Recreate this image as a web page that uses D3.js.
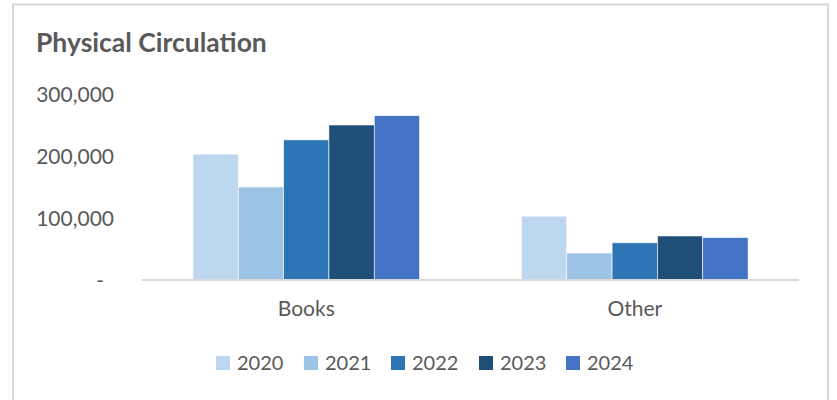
<!DOCTYPE html>
<html><head><meta charset="utf-8">
<script src="https://cdn.jsdelivr.net/npm/d3@7"></script>
<style>body{margin:0;background:#fff;} svg{display:block;}</style>
</head><body>
<script>
const categories = ["Books", "Other"];
const years = ["2020", "2021", "2022", "2023", "2024"];
const values2020 = [203000, 103000];
const values2021 = [150000, 43500];
const values2022 = [226000, 60000];
const values2023 = [250000, 71000];
const values2024 = [265000, 68500];
const yTicks = [0, 100000, 200000, 300000];
const colors = ["#bdd7ee", "#9dc3e6", "#2e75b6", "#1f4e79", "#4472c4"];

const series = [values2020, values2021, values2022, values2023, values2024];
const W = 837, H = 400;
const svg = d3.select("body").append("svg").attr("width", W).attr("height", H);
const font = "Lato, 'Open Sans', sans-serif";

// border
svg.append("path").attr("d", `M13,400 L13,4.5 L828,4.5 L828,400`)
  .attr("fill", "none").attr("stroke", "#d9d9d9").attr("stroke-width", 2);

svg.append("text").attr("x", 36).attr("y", 52).text("Physical Circulation")
  .attr("font-family", font).attr("font-weight", "bold").attr("font-size", 26.5).attr("fill", "#595959");

const x0 = d3.scaleBand().domain(categories).range([142, 799]).paddingInner(0.31).paddingOuter(0.155);
const x1 = d3.scaleBand().domain(years).range([0, x0.bandwidth()]);
const y = d3.scaleLinear().domain([0, 300000]).range([280, 94]);

const g = svg.append("g");
categories.forEach((c, ci) => {
  years.forEach((yr, si) => {
    const v = series[si][ci];
    g.append("rect").attr("x", x0(c) + x1(yr)).attr("y", y(v))
      .attr("width", x1.bandwidth()).attr("height", y(0) - y(v))
      .attr("fill", colors[si]).attr("stroke", "#fff").attr("stroke-width", 0.6);
  });
});

// x axis line
const xAxis = d3.axisBottom(x0).tickSize(0).tickPadding(21);
const xa = svg.append("g").attr("transform", `translate(0,${y(0)})`).call(xAxis);
xa.select(".domain").attr("d", "M142,0H799").attr("stroke", "#d9d9d9").attr("stroke-width", 2);
xa.selectAll("text").attr("font-family", font).attr("font-size", 21).attr("fill", "#595959");

// y axis
const yAxis = d3.axisLeft(y).tickValues(yTicks).tickSize(0).tickPadding(0)
  .tickFormat(d => d === 0 ? "-" : d3.format(",")(d));
const ya = svg.append("g").attr("transform", `translate(114,0)`).call(yAxis);
ya.select(".domain").remove();
ya.selectAll("text").attr("font-family", font).attr("font-size", 21).attr("fill", "#595959")
  .attr("dy", "0.35em");
ya.selectAll(".tick").filter(d => d === 0).select("text").attr("x", -10);

// legend
const legX = [216, 304, 391, 479, 566];
const leg = svg.append("g");
years.forEach((yr, i) => {
  const lg = leg.append("g").attr("transform", `translate(${legX[i]},356)`);
  lg.append("rect").attr("width", 14).attr("height", 14).attr("fill", colors[i]);
  lg.append("text").attr("x", 21).attr("y", 7).attr("dy", "0.36em").text(yr)
    .attr("font-family", font).attr("font-size", 20).attr("fill", "#595959");
});
</script>
</body></html>
